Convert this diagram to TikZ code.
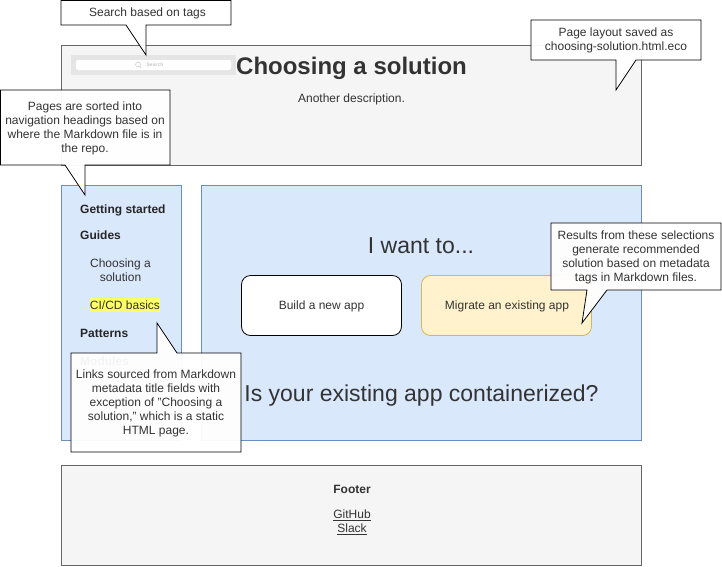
\documentclass[tikz,border=0pt]{standalone}
\usepackage{fontspec}
\setmainfont{Liberation Sans}
\usepackage{xcolor}
\usetikzlibrary{positioning}
\definecolor{pagegray}{HTML}{F5F5F5}
\definecolor{pageline}{HTML}{666666}
\definecolor{paneblue}{HTML}{DAE8FC}
\definecolor{paneline}{HTML}{6C8EBF}
\definecolor{btnyellow}{HTML}{FFF2CC}
\definecolor{btnline}{HTML}{D6B656}
\definecolor{inktext}{HTML}{333333}
\definecolor{marker}{HTML}{FFFF66}
\begin{document}
\begin{tikzpicture}[
  x=1pt, y=-1pt,
  panel/.style={draw=pageline, fill=pagegray, line width=0.8pt},
  pane/.style={draw=paneline, fill=paneblue, line width=0.8pt},
  body/.style={font=\fontsize{12}{14}\selectfont, text=inktext, align=center, inner sep=0pt},
  navhead/.style={font=\fontsize{12}{14}\selectfont\bfseries, text=black!85, anchor=west, inner sep=0pt},
  big/.style={font=\fontsize{23}{28}\selectfont, text=inktext, inner sep=0pt},
  callout/.style={draw=black, fill=white, fill opacity=0.95, line width=0.8pt, line join=miter},
  btn/.style={rounded corners=9pt, line width=0.8pt}
]
  \useasboundingbox (0,0) rectangle (722,566);

  % page regions
  \draw[panel] (61,45) rectangle (641,165);
  \draw[pane] (61,185) rectangle (181,440);
  \draw[pane] (201,185) rectangle (641,440);
  \draw[panel] (61,465) rectangle (641,565);

  % header
  \fill[black!10] (71,55) rectangle (236,75);
  \fill[white, rounded corners=2pt] (76,60) rectangle (231,70);
  \draw[black!25, line width=0.4pt] (138,64.5) circle (2.4);
  \draw[black!25, line width=0.4pt] (139.7,66.2) -- (141.2,67.7);
  \node[font=\fontsize{5}{6}\selectfont\bfseries, text=black!22, inner sep=0pt] (searchhint) at (155,65) {Search};
  \node[font=\fontsize{24}{28}\selectfont\bfseries, text=inktext, inner sep=0pt] (title) at (351.5,68) {Choosing a solution};
  \node[body] (desc) at (351.5,99) {Another description.};

  % navigation
  \node[navhead] (navstart) at (80,210) {Getting started};
  \node[navhead] (navguides) at (80,235) {Guides};
  \node[body] (navchoosing) at (120.5,270) {Choosing a\\solution};
  \node[body, fill=marker, minimum width=70pt, minimum height=14pt] (navcicd) at (125,305) {CI/CD basics};
  \node[navhead] (navpatterns) at (80,333) {Patterns};
  \node[navhead] (navmodules) at (80,361) {Modules};

  % main pane
  \node[big] (wantto) at (421,246) {I want to...};
  \draw[btn, draw=black, fill=white] (241.5,275.5) rectangle (401.5,335.5);
  \node[body] (buildapp) at (321.5,306) {Build a new app};
  \draw[btn, draw=btnline, fill=btnyellow] (421.5,275.5) rectangle (591.5,335.5);
  \node[body] (migrateapp) at (507,306) {Migrate an existing app};
  \node[big] (question) at (421.5,396) {Is your existing app containerized?};

  % footer
  \node[body, font=\fontsize{12}{14}\selectfont\bfseries] (footer) at (352,489) {Footer};
  \node[body] (github) at (352,515) {\underline{GitHub}};
  \node[body] (slack) at (352,529) {\underline{Slack}};

  % callouts
  \draw[callout] (61,0.5) -- (231,0.5) -- (231,25) -- (146,25) -- (146,55) -- (126,25) -- (61,25) -- cycle;
  \node[body] (notesearch) at (147.5,13.5) {Search based on tags};

  \draw[callout] (531,20) -- (701,20) -- (701,60) -- (636,60) -- (616,90) -- (616,60) -- (531,60) -- cycle;
  \node[body] (notelayout) at (616,40.5) {Page layout saved as\\choosing-solution.html.eco};

  \draw[callout] (0.5,90) -- (170,90) -- (170,165) -- (85,165) -- (85,195) -- (65,165) -- (0.5,165) -- cycle;
  \node[body] (notesorted) at (85,128.5) {Pages are sorted into\\navigation headings based on\\where the Markdown file is in\\the repo.};

  \draw[callout] (551,223) -- (721,223) -- (721,290) -- (607,290) -- (582,323) -- (587,290) -- (551,290) -- cycle;
  \node[body] (noteresults) at (636,257) {Results from these selections\\generate recommended\\solution based on metadata\\tags in Markdown files.};

  \draw[callout] (71,353) -- (157,353) -- (157,323) -- (177,353) -- (241,353) -- (241,452) -- (71,452) -- cycle;
  \node[body] (notelinks) at (156,403) {Links sourced from Markdown\\metadata title fields with\\exception of "Choosing a\\solution," which is a static\\HTML page.};
\end{tikzpicture}
\end{document}
